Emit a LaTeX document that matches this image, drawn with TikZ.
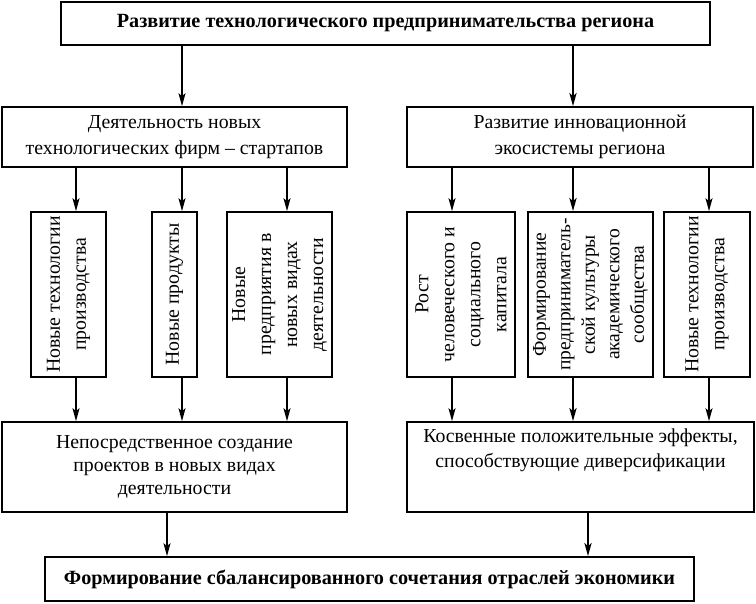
\documentclass[tikz,border=0pt]{standalone}
\usepackage{fontspec}
\setmainfont{Liberation Serif}
\usetikzlibrary{arrows.meta}
\tikzset{
  box/.style={draw, line width=1.6pt, inner sep=0pt, align=center,
    font=\fontsize{19.8}{26}\selectfont},
  vbox/.style={box, rotate=90},
  arr/.style={line width=1.5pt, -{Stealth[length=13pt,width=7pt,inset=3pt]}},
  thick arr/.style={arr, line width=2.4pt},
}
\begin{document}
\begin{tikzpicture}[x=1pt,y=1pt]
\useasboundingbox (0,0) rectangle (756,-604);
% top
\node[box, minimum width=649, minimum height=43, font=\fontsize{20.2}{24}\selectfont\bfseries]
  (top) at (385.5,-23.5) {Развитие технологического предпринимательства региона};
% second row
\node[box, minimum width=345, minimum height=60] (L2) at (174.5,-137)
  {Деятельность новых\\технологических фирм – стартапов};
\node[box, minimum width=346, minimum height=60] (R2) at (580,-137)
  {Развитие инновационной\\экосистемы региона};
% vertical boxes (rotated: width = height on page)
\node[vbox, minimum width=165, minimum height=75]  (V1) at (68.5,-294.5)
  {Новые технологии\\производства};
\node[vbox, minimum width=165, minimum height=45]  (V2) at (174.5,-294.5)
  {Новые продукты};
\node[vbox, minimum width=165, minimum height=105] (V3) at (279.5,-294.5)
  {Новые\\предприятия в\\новых видах\\деятельности};
\node[vbox, minimum width=165, minimum height=108] (V4) at (461,-294.5)
  {Рост\\человеческого и\\социального\\капитала};
\node[vbox, minimum width=165, minimum height=125, font=\fontsize{19.5}{24.5}\selectfont] (V5) at (590.5,-294.5)
  {Формирование\\предприниматель-\\ской культуры\\академического\\сообщества};
\node[vbox, minimum width=165, minimum height=86]  (V6) at (707,-294.5)
  {Новые технологии\\производства};
% third row
\node[box, minimum width=345, minimum height=90, font=\fontsize{19.8}{23}\selectfont] (L3) at (174.5,-467)
  {Непосредственное создание\\проектов в новых видах\\деятельности};
\node[box, minimum width=347, minimum height=90, font=\fontsize{19.8}{25}\selectfont] (R3) at (580.5,-467)
  {Косвенные положительные эффекты,\\способствующие диверсификации\\[12pt]\mbox{}};
% final
\node[box, minimum width=649, minimum height=44, font=\fontsize{20.2}{24}\selectfont\bfseries]
  (F) at (369.5,-579) {Формирование сбалансированного сочетания отраслей экономики};
% x positions of connectors
\coordinate (xa) at (76,0);
\coordinate (xb) at (182,0);
\coordinate (xc) at (287,0);
\coordinate (xd) at (452,0);
\coordinate (xe) at (573,0);
\coordinate (xf) at (709,0);
\coordinate (xg) at (167,0);
\coordinate (xh) at (588,0);
% arrows
\draw[arr] (xb |- top.south) -- (xb |- L2.north);
\draw[thick arr] (xe |- top.south) -- (xe |- R2.north);
\draw[arr] (xa |- L2.south) -- (xa |- V1.east);
\draw[arr] (xb |- L2.south) -- (xb |- V2.east);
\draw[arr] (xc |- L2.south) -- (xc |- V3.east);
\draw[arr] (xd |- R2.south) -- (xd |- V4.east);
\draw[thick arr] (xe |- R2.south) -- (xe |- V5.east);
\draw[arr] (xf |- R2.south) -- (xf |- V6.east);
\draw[arr] (xa |- V1.west) -- (xa |- L3.north);
\draw[arr] (xb |- V2.west) -- (xb |- L3.north);
\draw[arr] (xc |- V3.west) -- (xc |- L3.north);
\draw[arr] (xd |- V4.west) -- (xd |- R3.north);
\draw[thick arr] (xe |- V5.west) -- (xe |- R3.north);
\draw[arr] (xf |- V6.west) -- (xf |- R3.north);
\draw[arr] (xg |- L3.south) -- (xg |- F.north);
\draw[thick arr] (xh |- R3.south) -- (xh |- F.north);
\end{tikzpicture}
\end{document}
